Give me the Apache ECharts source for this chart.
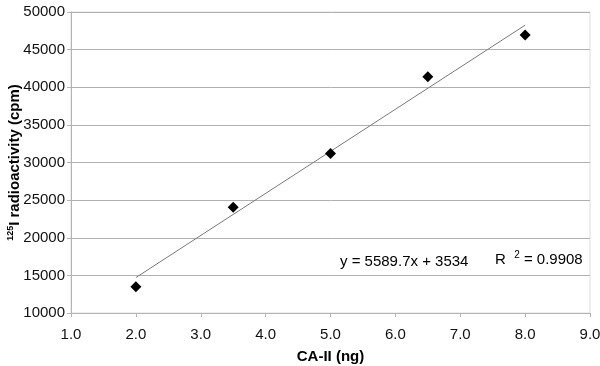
<!DOCTYPE html>
<html>
<head>
<meta charset="utf-8">
<script src="https://cdn.jsdelivr.net/npm/echarts@6/dist/echarts.min.js"></script>
<style>
html,body{margin:0;padding:0;background:#fff;}
#chart{width:600px;height:366px;}
</style>
</head>
<body>
<div id="chart"></div>
<script>
var xValues = [2.0, 3.5, 5.0, 6.5, 8.0];
var yValues = [13500, 24050, 31200, 41400, 46950];
var trendX = [2.0, 8.0];
var trendY = [14713, 48252];
var equationText = 'y = 5589.7x + 3534';
var r2Value = '0.9908';
var xTitle = 'CA-II (ng)';
var yTitleSup = '125';
var yTitleMain = 'I radioactivity (cpm)';

var font = 'Liberation Sans, Arial, sans-serif';
var chart = echarts.init(document.getElementById('chart'), null, {renderer: 'canvas'});

var points = xValues.map(function (x, i) { return [x, yValues[i]]; });
var trend = trendX.map(function (x, i) { return [x, trendY[i]]; });

chart.setOption({
  animation: false,
  backgroundColor: '#ffffff',
  grid: {
    left: 71, right: 10, top: 12, bottom: 53,
    containLabel: false, outerBoundsMode: 'none',
    show: true, borderColor: '#dcdcdc', borderWidth: 1
  },
  xAxis: {
    type: 'value', min: 1, max: 9, interval: 1,
    name: xTitle, nameLocation: 'middle', nameGap: 36, nameMoveOverlap: false,
    nameTextStyle: {fontFamily: font, fontSize: 15, fontWeight: 'bold', color: '#000'},
    axisLine: {show: true, lineStyle: {color: '#b4b4b4', width: 1}},
    axisTick: {show: true, length: 4, lineStyle: {color: '#b4b4b4'}},
    axisLabel: {fontFamily: font, fontSize: 15, color: '#111', margin: 14,
      formatter: function (v) { return v.toFixed(1); }},
    splitLine: {show: false}
  },
  yAxis: {
    type: 'value', min: 10000, max: 50000, interval: 5000,
    name: '{s|' + yTitleSup + '}{m|' + yTitleMain + '}',
    nameLocation: 'middle', nameGap: 47, nameRotate: 90, nameMoveOverlap: false,
    nameTextStyle: {
      fontFamily: font, fontWeight: 'bold', color: '#000',
      rich: {
        s: {fontFamily: font, fontSize: 9, fontWeight: 'bold', color: '#000', verticalAlign: 'top', lineHeight: 18},
        m: {fontFamily: font, fontSize: 15, fontWeight: 'bold', color: '#000', lineHeight: 18}
      }
    },
    axisLine: {show: true, lineStyle: {color: '#b4b4b4', width: 1}},
    axisTick: {show: true, length: 4, lineStyle: {color: '#b4b4b4'}},
    axisLabel: {fontFamily: font, fontSize: 15, color: '#111', margin: 6,
      formatter: function (v) { return String(v); }},
    splitLine: {show: true, lineStyle: {color: '#b0b0b0', width: 1}}
  },
  series: [
    {
      type: 'line', data: trend, showSymbol: false, symbol: 'none',
      lineStyle: {color: '#7a7a7a', width: 1}, z: 2, silent: true
    },
    {
      type: 'scatter', data: points, symbol: 'path://M0,-1L1,0L0,1L-1,0Z', symbolSize: [11, 11],
      itemStyle: {color: '#000', opacity: 1}, z: 3
    }
  ],
  graphic: [
    {
      type: 'text', left: 340, top: 254,
      style: {text: equationText, font: '15px ' + font, fill: '#000'}
    },
    {
      type: 'text', left: 495, top: 250,
      style: {
        text: 'R  {s|2} = ' + r2Value,
        font: '15px ' + font, fill: '#000',
        rich: {
          s: {fontSize: 10, fontFamily: font, fill: '#000', verticalAlign: 'top', lineHeight: 20}
        }
      }
    }
  ]
});
</script>
</body>
</html>
